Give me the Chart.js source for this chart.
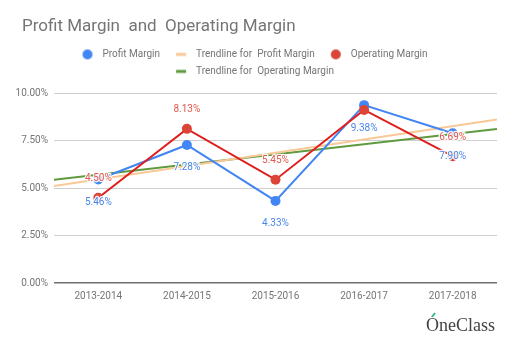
<!DOCTYPE html>
<html>
<head>
<meta charset="utf-8">
<script src="https://cdn.jsdelivr.net/npm/chart.js@4.4.0/dist/chart.umd.min.js"></script>
<style>
  html, body { margin: 0; padding: 0; background: #fff; }
  #wrap { width: 520px; height: 345px; }
</style>
</head>
<body>
<div id="wrap"><canvas id="marginChart"></canvas></div>
<script>
const categories = ['2013-2014', '2014-2015', '2015-2016', '2016-2017', '2017-2018'];
const profitMargin = [5.46, 7.28, 4.33, 9.38, 7.90];
const operatingMargin = [4.50, 8.13, 5.45, 9.13, 6.69];
// trendline ends, read at the left and right edge of the plot
const trendEdges = [-0.5, 4.5];
const profitTrend = [5.12, 8.62];
const operatingTrend = [5.44, 8.12];
const yTicks = [0, 2.5, 5, 7.5, 10];
// the 2016-2017 operating label is hidden in the original
const operatingLabelShown = [true, true, true, false, true];

const BLUE = '#4285f4';
const RED = '#db4437';
const RED_LINE = '#e01e1e';
const ORANGE = '#f9c896';
const GREEN = '#5f9a3e';
const TEXT = '#757575';

// little legend marks, drawn on a canvas so the gap to the text can be set
function legendMark(kind, color) {
  const c = document.createElement('canvas');
  c.width = 24;
  c.height = 12;
  const g = c.getContext('2d');
  g.fillStyle = color;
  if (kind === 'dot') {
    g.beginPath();
    g.arc(14, 6, 5, 0, Math.PI * 2);
    g.fill();
  } else {
    g.fillRect(9, 4.5, 10, 3);
  }
  return c;
}

const valueLabels = {
  id: 'valueLabels',
  afterDatasetsDraw(chart) {
    const ctx = chart.ctx;
    ctx.save();
    ctx.font = '10px Roboto';
    ctx.textAlign = 'center';
    ctx.textBaseline = 'middle';
    ctx.lineJoin = 'round';
    const sets = [
      { index: 0, dy: 23, color: '#4a86e8', values: profitMargin, shown: [true, true, true, true, true] },
      { index: 2, dy: -19, color: '#e0584c', values: operatingMargin, shown: operatingLabelShown }
    ];
    sets.forEach(s => {
      const meta = chart.getDatasetMeta(s.index);
      meta.data.forEach((pt, i) => {
        if (!s.shown[i]) return;
        const txt = s.values[i].toFixed(2) + '%';
        ctx.strokeStyle = 'rgba(255,255,255,0.9)';
        ctx.lineWidth = 2.5;
        ctx.strokeText(txt, pt.x, pt.y + s.dy);
        ctx.fillStyle = s.color;
        ctx.fillText(txt, pt.x, pt.y + s.dy);
      });
    });
    ctx.restore();
  }
};

// title sits further right than the axis labels, nudge its box after layout
const titleNudge = {
  id: 'titleNudge',
  afterLayout(chart) {
    if (chart.titleBlock) chart.titleBlock.left = 22;
  }
};

const watermark = {
  id: 'watermark',
  afterDraw(chart) {
    const ctx = chart.ctx;
    ctx.save();
    ctx.font = '18px "Liberation Serif"';
    ctx.fillStyle = '#444';
    ctx.textAlign = 'right';
    ctx.textBaseline = 'alphabetic';
    ctx.fillText('OneClass', 495, 331);
    ctx.strokeStyle = '#3bb88a';
    ctx.lineWidth = 2;
    ctx.beginPath();
    ctx.moveTo(432, 317);
    ctx.lineTo(435, 313);
    ctx.stroke();
    ctx.restore();
  }
};

const marks = [
  legendMark('dot', BLUE),
  legendMark('line', ORANGE),
  legendMark('dot', RED),
  legendMark('line', GREEN)
];

new Chart(document.getElementById('marginChart'), {
  type: 'line',
  data: {
    labels: categories,
    datasets: [
      {
        label: 'Profit Margin',
        data: profitMargin,
        borderColor: BLUE,
        backgroundColor: BLUE,
        borderWidth: 2,
        pointRadius: 5,
        pointBorderWidth: 0,
        pointBackgroundColor: BLUE,
        tension: 0,
        order: 1
      },
      {
        label: 'Trendline for  Profit Margin',
        data: trendEdges.map((x, i) => ({ x: x, y: profitTrend[i] })),
        xAxisID: 'xTrend',
        borderColor: ORANGE,
        borderWidth: 2,
        pointRadius: 0,
        order: 2
      },
      {
        label: 'Operating Margin',
        data: operatingMargin,
        borderColor: RED_LINE,
        backgroundColor: RED,
        borderWidth: 2,
        pointRadius: 5,
        pointBorderWidth: 0,
        pointBackgroundColor: RED,
        tension: 0,
        order: 0
      },
      {
        label: 'Trendline for  Operating Margin',
        data: trendEdges.map((x, i) => ({ x: x, y: operatingTrend[i] })),
        xAxisID: 'xTrend',
        borderColor: GREEN,
        borderWidth: 2,
        pointRadius: 0,
        order: 2
      }
    ]
  },
  options: {
    responsive: true,
    maintainAspectRatio: false,
    animation: false,
    layout: { padding: { left: 4, right: 23, top: 0, bottom: 0 } },
    plugins: {
      title: {
        display: true,
        text: 'Profit Margin  and  Operating Margin',
        align: 'start',
        color: TEXT,
        font: { family: 'Roboto', size: 17, weight: 'normal' },
        padding: { top: 17, bottom: 5 }
      },
      legend: {
        display: true,
        position: 'top',
        labels: {
          usePointStyle: true,
          pointStyleWidth: 24,
          padding: 7,
          color: TEXT,
          font: { family: 'Roboto', size: 10 },
          generateLabels(chart) {
            return chart.data.datasets.map((ds, i) => ({
              text: ds.label,
              pointStyle: marks[i],
              fillStyle: ds.borderColor,
              strokeStyle: ds.borderColor,
              lineWidth: 0,
              fontColor: TEXT,
              hidden: false,
              datasetIndex: i
            }));
          }
        }
      },
      tooltip: { enabled: false }
    },
    scales: {
      x: {
        type: 'category',
        offset: true,
        grid: { display: false, drawTicks: false },
        border: { display: false },
        ticks: {
          color: TEXT,
          font: { family: 'Roboto', size: 10 },
          padding: 7,
          maxRotation: 0
        },
        afterFit(scale) { scale.height = 62; }
      },
      // invisible top axis for the trendlines; its height leaves the gap under the legend
      xTrend: {
        type: 'linear',
        position: 'top',
        display: true,
        min: trendEdges[0],
        max: trendEdges[1],
        grid: { display: false, drawTicks: false },
        border: { display: false },
        ticks: { display: false },
        afterFit(scale) { scale.height = 7; }
      },
      y: {
        min: yTicks[0],
        max: yTicks[yTicks.length - 1],
        afterBuildTicks(scale) { scale.ticks = yTicks.map(v => ({ value: v })); },
        grid: {
          drawTicks: false,
          color: c => (c.tick && c.tick.value === 0 ? '#6f6f6f' : '#cfcfcf'),
          lineWidth: c => (c.tick && c.tick.value === 0 ? 1.5 : 1)
        },
        border: { display: false },
        ticks: {
          color: TEXT,
          font: { family: 'Roboto', size: 10 },
          padding: 6,
          callback: v => v.toFixed(2) + '%'
        },
        afterFit(scale) { scale.width = 50; }
      }
    }
  },
  plugins: [valueLabels, titleNudge, watermark]
});
</script>
</body>
</html>
